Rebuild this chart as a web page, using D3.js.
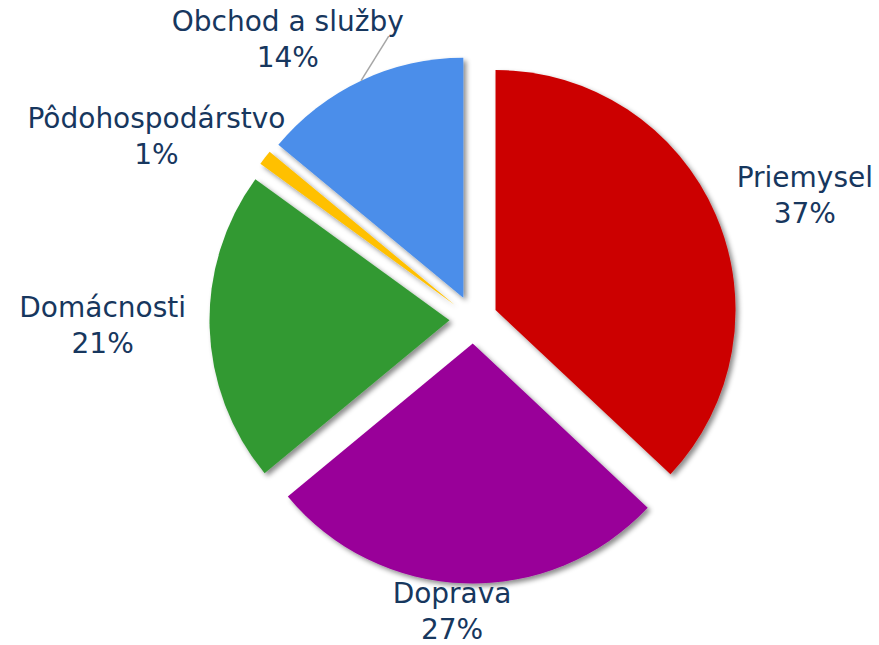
<!DOCTYPE html>
<html>
<head>
<meta charset="utf-8">
<script src="https://cdn.jsdelivr.net/npm/d3@7"></script>
<style>
  body { margin: 0; background: #fff; }
  text { font-family: "DejaVu Sans", Verdana, sans-serif; }
</style>
</head>
<body>
<div class="main-container"></div>
<script>
// data
const categories = ["Priemysel", "Doprava", "Domácnosti", "Pôdohospodárstvo", "Obchod a služby"];
const shares = [37, 27, 21, 1, 14];
const colors = ["#cc0000", "#990099", "#339933", "#ffc000", "#4b8eea"];
// label nudges (px) from the default outside anchor, to mimic excel's placement
const labelNudge = [[56, -5], [-12, -8], [-71, -4], [-80, 0], [-58, -9]];

const width = 879;
const height = 645;
const cx = 473.5, cy = 319.5;
const radius = 240;
const explode = 24;
const labelRadius = 300;

const svg = d3.select(".main-container")
    .append("svg")
    .attr("width", width)
    .attr("height", height);

const defs = svg.append("defs");
defs.append("filter")
    .attr("id", "shadow")
    .attr("x", "-20%").attr("y", "-20%")
    .attr("width", "140%").attr("height", "140%")
    .append("feDropShadow")
    .attr("dx", 3).attr("dy", 3)
    .attr("stdDeviation", 2.5)
    .attr("flood-color", "#000")
    .attr("flood-opacity", 0.45);

const g = svg.append("g")
    .attr("transform", "translate(" + cx + "," + cy + ")");

const pie = d3.pie().sort(null).value(d => d);
const arcs = pie(shares);

const arc = d3.arc().innerRadius(0).outerRadius(radius);

const dir = d => {
    const a = (d.startAngle + d.endAngle) / 2;
    return [Math.sin(a), -Math.cos(a)];
};

g.selectAll("path.slice")
    .data(arcs)
    .enter()
    .append("path")
    .attr("class", "slice")
    .attr("d", arc)
    .attr("transform", d => {
        const [ux, uy] = dir(d);
        return "translate(" + ux * explode + "," + uy * explode + ")";
    })
    .attr("filter", "url(#shadow)")
    .style("fill", (d, i) => colors[i]);

// labels
const labels = g.selectAll("g.label")
    .data(arcs)
    .enter()
    .append("g")
    .attr("class", "label")
    .attr("transform", (d, i) => {
        const [ux, uy] = dir(d);
        const x = ux * labelRadius + labelNudge[i][0];
        const y = uy * labelRadius + labelNudge[i][1];
        return "translate(" + x + "," + y + ")";
    });

const txt = labels.append("text")
    .attr("text-anchor", "middle")
    .style("font-size", "28px")
    .style("fill", "#17375e");
txt.append("tspan").attr("x", 0).attr("y", -8).text((d, i) => categories[i]);
txt.append("tspan").attr("x", 0).attr("y", 28).text(d => d.data + "%");

// leader line for the label that was moved away (Obchod a služby)
arcs.forEach((d, i) => {
    if (categories[i] !== "Obchod a služby") return;
    const [ux, uy] = dir(d);
    const sx = ux * (radius + explode), sy = uy * (radius + explode);
    const w = labels.filter((e, j) => j === i).select("text").node().getBBox().width;
    const lx = ux * labelRadius + labelNudge[i][0] + w / 2 - 15;
    const ly = uy * labelRadius + labelNudge[i][1] - 3;
    g.append("line")
        .attr("x1", sx).attr("y1", sy)
        .attr("x2", lx).attr("y2", ly)
        .style("stroke", "#a6a6a6")
        .style("stroke-width", 1.5);
});
</script>
</body>
</html>
